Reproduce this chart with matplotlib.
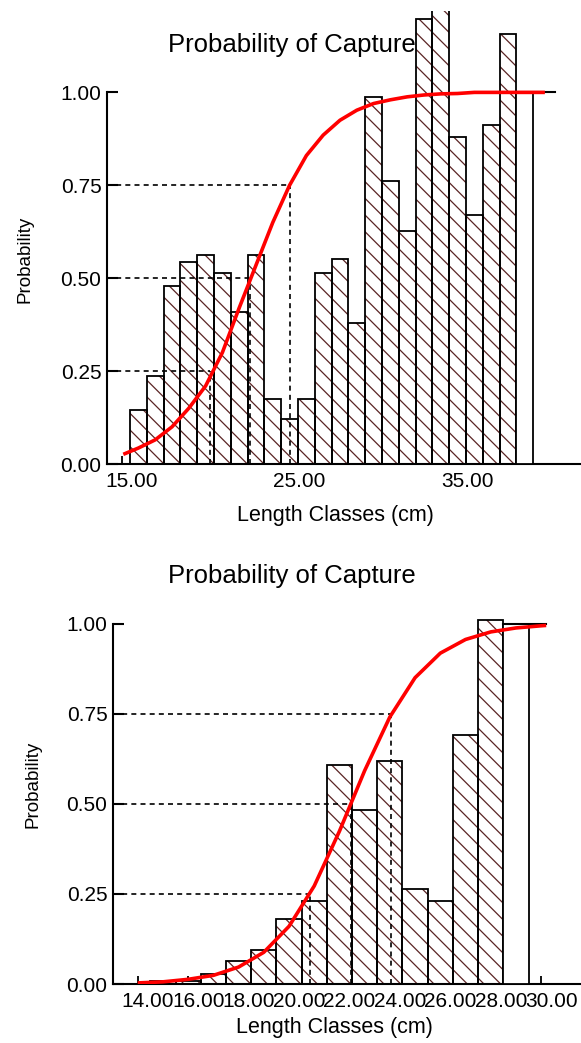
import matplotlib
matplotlib.use("Agg")
import matplotlib.pyplot as plt
import matplotlib.transforms as mtransforms

plt.rcParams['font.family'] = ['Liberation Sans', 'DejaVu Sans']
plt.rcParams['hatch.linewidth'] = 0.9

# ---- data ----
# upper panel
top_len = [16, 17, 18, 19, 20, 21, 22, 23, 24, 25, 26, 27, 28, 29, 30, 31,
           32, 33, 34, 35, 36, 37, 38]
top_prob = [0.145, 0.237, 0.48, 0.543, 0.563, 0.514, 0.41, 0.563, 0.174, 0.12,
            0.174, 0.514, 0.552, 0.379, 0.988, 0.762, 0.628, 1.197, 1.25, 0.88,
            0.67, 0.912, 1.156]
top_last_len = [39]
top_last_prob = [1.0]
top_curve_x = [15.1, 16, 17, 18, 19, 20, 21, 22, 23, 24, 25, 26, 27, 28, 29, 30,
               31, 32, 33, 34, 35, 36, 37, 38, 39, 40, 40.2]
top_curve_y = [0.026, 0.043, 0.065, 0.10, 0.15, 0.21, 0.30, 0.42, 0.535, 0.65,
               0.75, 0.83, 0.885, 0.925, 0.952, 0.97, 0.98, 0.988, 0.993, 0.996,
               0.997, 1.0, 1.0, 1.0, 1.0, 1.0, 1.0]
top_plateau_x = [38.5, 40.8]
top_levels = [0.25, 0.50, 0.75]
top_lengths_at_level = [20.26, 22.64, 25.02]
top_xticks = [15, 25, 35]

# lower panel
bot_len = [15, 16, 17, 18, 19, 20, 21, 22, 23, 24, 25, 26, 27, 28]
bot_prob = [0.008, 0.008, 0.028, 0.065, 0.094, 0.179, 0.231, 0.609, 0.482,
            0.618, 0.264, 0.231, 0.69, 1.009]
bot_last_len = [29]
bot_last_prob = [1.0]
bot_curve_x = [14, 15, 16, 17, 18, 19, 20, 21, 22, 23, 24, 25, 26, 27, 28, 29,
               30, 30.2]
bot_curve_y = [0.003, 0.006, 0.013, 0.024, 0.047, 0.088, 0.16, 0.272, 0.424,
               0.592, 0.741, 0.85, 0.918, 0.956, 0.977, 0.988, 0.994, 0.995]
bot_plateau_x = [28.5, 30.2]
bot_levels = [0.25, 0.50, 0.75]
bot_lengths_at_level = [20.84, 22.45, 24.05]
bot_xticks = [14, 16, 18, 20, 22, 24, 26, 28, 30]

yticks = [0.0, 0.25, 0.5, 0.75, 1.0]

W, H = 581, 1043
HATCH = '#5a2424'
fig = plt.figure(figsize=(W / 100, H / 100), dpi=100)


def box(left, top, right, bottom):
    return [left / W, 1 - bottom / H, (right - left) / W, (bottom - top) / H]


def panel(ax, lens, probs, last_len, last_prob, cx, cy, plat_x, levels,
          lev_x, xticks, xlim, ylim):
    ax.bar(lens, probs, width=1.0, color='white', edgecolor=HATCH,
           hatch='\\\\', linewidth=0, zorder=2)
    ax.bar(lens, probs, width=1.0, fill=False, edgecolor='black',
           linewidth=1.3, zorder=3)
    ax.bar(last_len, last_prob, width=1.0, color='white', edgecolor='black',
           linewidth=1.3, zorder=3)
    ax.plot(plat_x, [1.0, 1.0], color='black', lw=1.5, zorder=4)
    for lev, lx in zip(levels, lev_x):
        ax.plot([xlim[0], lx], [lev, lev], color='black', lw=1.2,
                ls=(0, (3, 2.5)), zorder=5)
        ax.plot([lx, lx], [0, lev], color='black', lw=1.2,
                ls=(0, (3, 2.5)), zorder=5)
    ax.plot(cx, cy, color='#ff0000', lw=2.6, zorder=6, solid_capstyle='butt')

    ax.set_xlim(*xlim)
    ax.set_ylim(*ylim)
    for s in ['top', 'right']:
        ax.spines[s].set_visible(False)
    ax.spines['left'].set_bounds(0, 1)
    for s in ['left', 'bottom']:
        ax.spines[s].set_linewidth(1.5)
    ax.set_yticks(yticks)
    ax.set_yticklabels([f'{v:.2f}' for v in yticks])
    ax.set_xticks(xticks)
    ax.set_xticklabels([f'{v:.2f}' for v in xticks])
    ax.tick_params(axis='y', direction='in', length=8, width=1.5,
                   labelsize=15, pad=4)
    ax.tick_params(axis='x', direction='in', length=6, width=1.3,
                   labelsize=15, pad=6)
    shift = mtransforms.ScaledTranslation(10 / 100, 0, fig.dpi_scale_trans)
    for lab in ax.get_xticklabels():
        lab.set_transform(lab.get_transform() + shift)
    ax.patch.set_visible(False)


ax1 = fig.add_axes(box(107, 11, 581, 464))
panel(ax1, top_len, top_prob, top_last_len, top_last_prob, top_curve_x,
      top_curve_y, top_plateau_x, top_levels, top_lengths_at_level,
      top_xticks, (14.13, 42.35), (0, 1.219))

ax2 = fig.add_axes(box(113, 602, 581, 984))
panel(ax2, bot_len, bot_prob, bot_last_len, bot_last_prob, bot_curve_x,
      bot_curve_y, bot_plateau_x, bot_levels, bot_lengths_at_level,
      bot_xticks, (13.02, 31.58), (0, 1.06))


def ftext(x, y, s, **kw):
    fig.text(x / W, 1 - y / H, s, **kw)


ftext(292, 51.7, 'Probability of Capture', ha='center', va='baseline',
      fontsize=18.5)
ftext(292, 583, 'Probability of Capture', ha='center', va='baseline',
      fontsize=18.5)
ftext(335, 516, 'Length Classes (cm)', ha='center', va='center', fontsize=15.5)
ftext(334, 1027, 'Length Classes (cm)', ha='center', va='center', fontsize=15.5)
ftext(25, 259, 'Probability', ha='center', va='center', rotation=90,
      fontsize=13.5)
ftext(33, 784, 'Probability', ha='center', va='center', rotation=90,
      fontsize=13.5)

fig.savefig('out.png', dpi=100)
